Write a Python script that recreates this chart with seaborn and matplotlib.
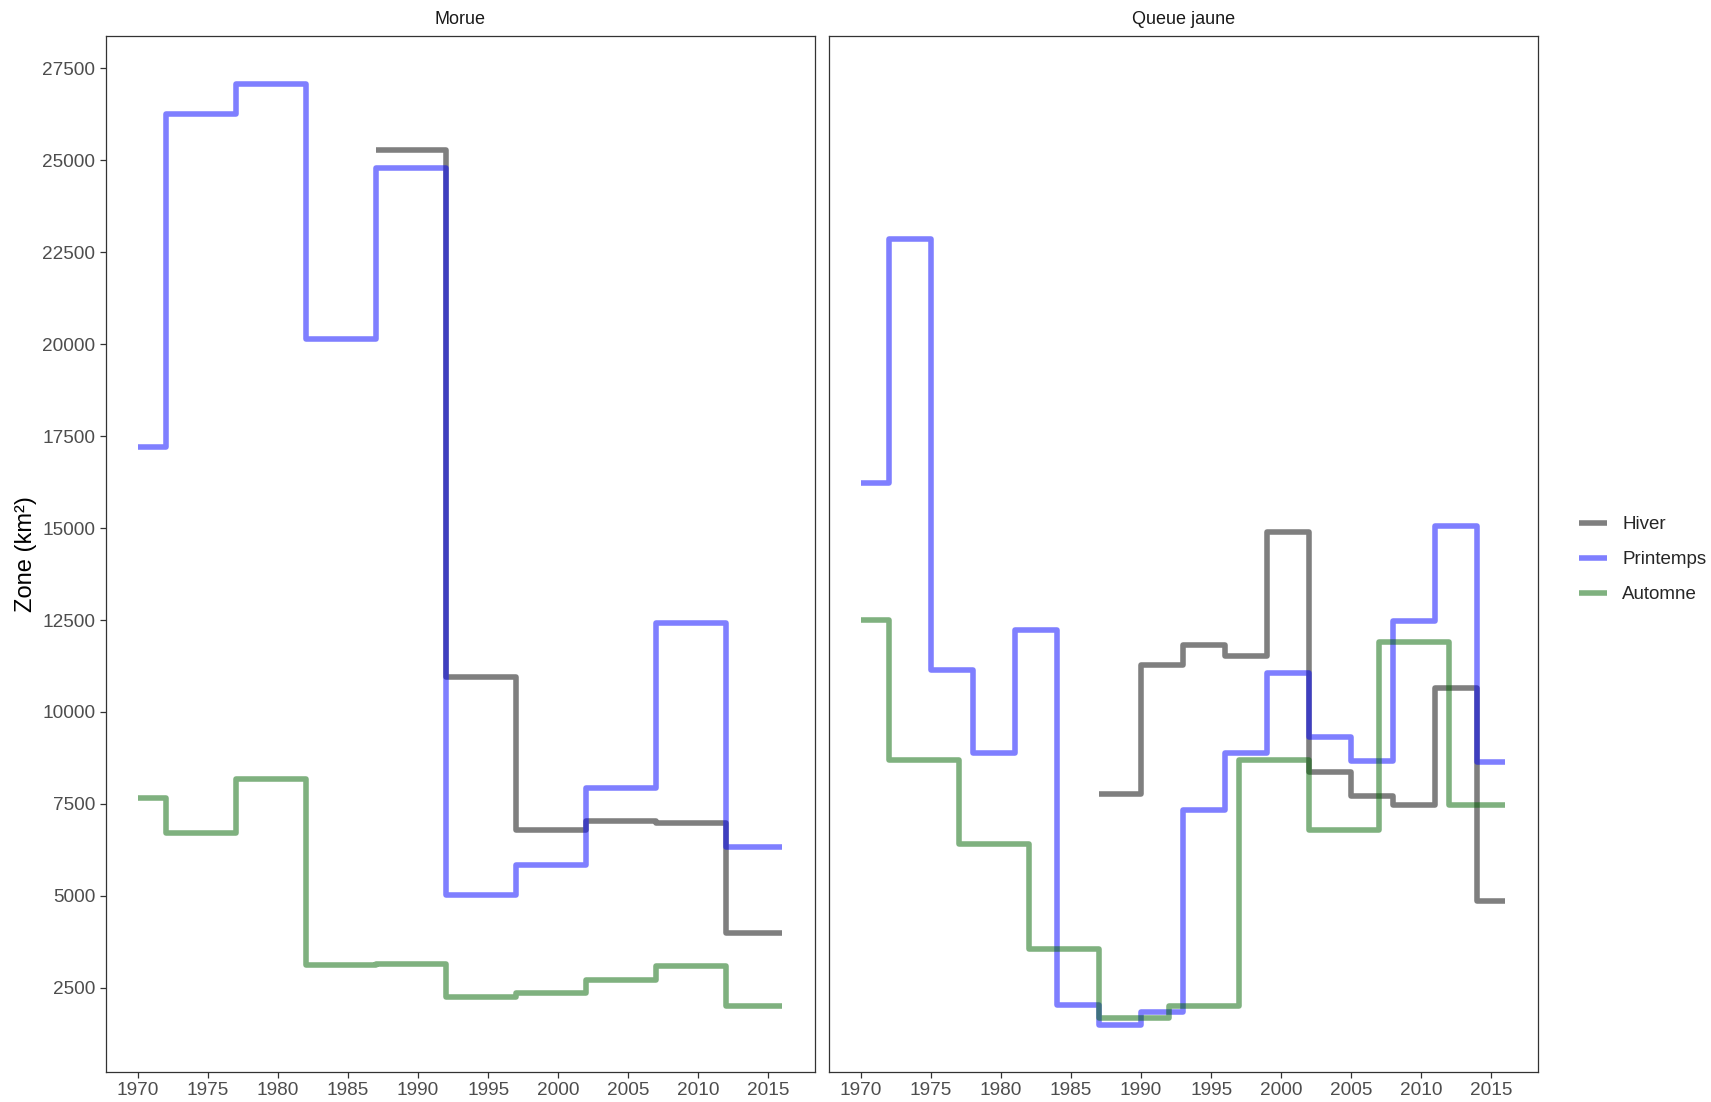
import pandas as pd
import numpy as np
import matplotlib
matplotlib.use("Agg")
import matplotlib.pyplot as plt
import seaborn as sns
from matplotlib.lines import Line2D

# données (zone en km², par saison)
annees_5 = [1970, 1972, 1977, 1982, 1987, 1992, 1997, 2002, 2007, 2012, 2016]
annees_3 = [1970, 1972, 1975, 1978, 1981, 1984, 1987, 1990, 1993, 1996, 1999,
            2002, 2005, 2008, 2011, 2014, 2016]
annees_hiver = [1987, 1992, 1997, 2002, 2007, 2012, 2016]
annees_hiver_qj = [1987, 1990, 1993, 1996, 1999, 2002, 2005, 2008, 2011, 2014, 2016]

# Morue
morue_printemps = [17200, 26250, 27080, 20150, 24800, 5030, 5830, 7930, 12420, 6330, 6330]
morue_hiver = [25280, 10950, 6800, 7030, 6980, 4000, 4000]
morue_automne = [7660, 6720, 8180, 3120, 3150, 2260, 2370, 2700, 3080, 2000, 2000]

# Queue jaune
qj_printemps = [16220, 22850, 11150, 8880, 12230, 2030, 1500, 1850, 7330, 8880, 11070,
                9330, 8660, 12480, 15050, 8650, 8650]
qj_hiver = [7770, 11270, 11820, 11530, 14900, 8360, 7720, 7470, 10650, 4860, 4860]
qj_automne = [12500, 8700, 6400, 3550, 1680, 2000, 8700, 6800, 11900, 7480, 7480]

saisons = ["Hiver", "Printemps", "Automne"]
couleurs = {"Hiver": "black", "Printemps": "blue", "Automne": "darkgreen"}
especes = ["Morue", "Queue jaune"]


def construire(espece, saison, annees, valeurs):
    return pd.DataFrame({"espece": espece, "saison": saison,
                         "annee": annees, "zone": valeurs})


df = pd.concat([
    construire("Morue", "Hiver", annees_hiver, morue_hiver),
    construire("Morue", "Printemps", annees_5, morue_printemps),
    construire("Morue", "Automne", annees_5, morue_automne),
    construire("Queue jaune", "Hiver", annees_hiver_qj, qj_hiver),
    construire("Queue jaune", "Printemps", annees_3, qj_printemps),
    construire("Queue jaune", "Automne", annees_5, qj_automne),
], ignore_index=True)

sns.set_style("white")
plt.rcParams["font.family"] = ["Liberation Sans", "DejaVu Sans"]

fig, axes = plt.subplots(1, 2, figsize=(17.11, 11.02), dpi=100, sharey=True)
fig.subplots_adjust(left=0.0618, right=0.8986, bottom=0.0276, top=0.9673, wspace=0.02)

for ax, espece in zip(axes, especes):
    sous_df = df[df["espece"] == espece]
    sns.lineplot(data=sous_df, x="annee", y="zone", hue="saison", hue_order=saisons,
                 palette=couleurs, drawstyle="steps-post", alpha=0.5, linewidth=4,
                 solid_capstyle="butt", errorbar=None, legend=False, ax=ax)
    ax.set_title(espece, fontsize=13, color="#1A1A1A", pad=9)
    ax.set_xlim(1967.7, 2018.3)
    ax.set_ylim(220, 28380)
    ax.set_xticks(np.arange(1970, 2016, 5))
    ax.set_yticks(np.arange(2500, 27501, 2500))
    ax.set_xlabel("")
    ax.set_ylabel("")
    for s in ax.spines.values():
        s.set_visible(True)
        s.set_color("#333333")
        s.set_linewidth(0.9)
    ax.tick_params(axis="both", direction="out", length=4, width=0.9, color="#333333",
                   labelsize=13.7, labelcolor="#4D4D4D", bottom=True, left=True)

axes[1].tick_params(left=False, labelleft=False)
axes[0].set_ylabel("Zone (km²)", fontsize=17, color="black", labelpad=4)

handles = [Line2D([0], [0], color=couleurs[s], alpha=0.5, linewidth=4, solid_capstyle="butt")
           for s in saisons]
fig.legend(handles, saisons, loc="center left", bbox_to_anchor=(0.913, 0.492),
           frameon=False, fontsize=13.5, handlelength=1.5, handletextpad=0.8,
           labelspacing=0.95)

fig.savefig("out.png", dpi=100, facecolor="white")
